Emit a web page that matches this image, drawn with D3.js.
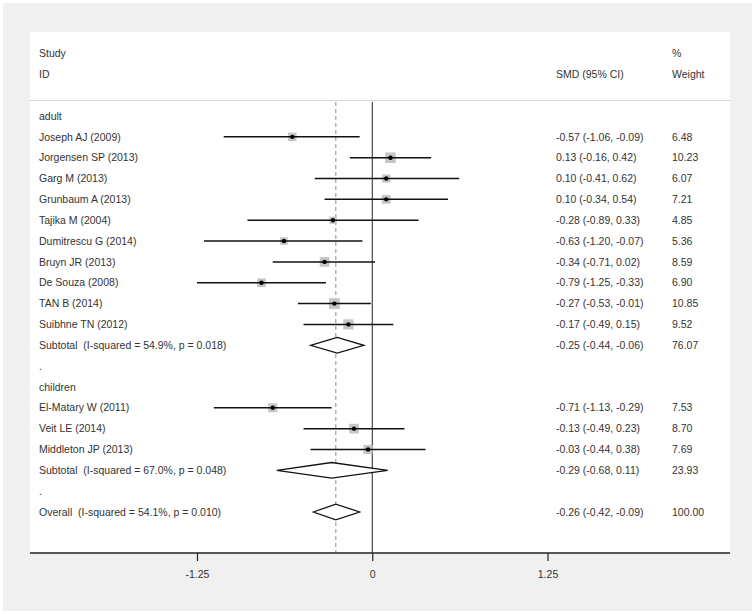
<!DOCTYPE html>
<html>
<head>
<meta charset="utf-8">
<script src="https://cdn.jsdelivr.net/npm/d3@7"></script>
<style>
  html, body { margin: 0; padding: 0; background: #fff; }
  svg { display: block; }
  text { font-family: "Liberation Sans", Arial, sans-serif; font-size: 10.5px; fill: #333; white-space: pre; }
</style>
</head>
<body>
<div id="chart"></div>
<script>
// ---------- data ----------
const rowLabels = [
  "adult",
  "Joseph AJ (2009)", "Jorgensen SP (2013)", "Garg M (2013)", "Grunbaum A (2013)",
  "Tajika M (2004)", "Dumitrescu G (2014)", "Bruyn JR (2013)", "De Souza (2008)",
  "TAN B (2014)", "Suibhne TN (2012)",
  "Subtotal  (I-squared = 54.9%, p = 0.018)",
  ".",
  "children",
  "El-Matary W (2011)", "Veit LE (2014)", "Middleton JP (2013)",
  "Subtotal  (I-squared = 67.0%, p = 0.048)",
  ".",
  "Overall  (I-squared = 54.1%, p = 0.010)"
];
// row type: h = heading, s = study, d = diamond (pooled), b = blank
const rowTypes = ["h","s","s","s","s","s","s","s","s","s","s","d","b","h","s","s","s","d","b","d"];
const smd    = [null,-0.57, 0.13, 0.10, 0.10,-0.28,-0.63,-0.34,-0.79,-0.27,-0.17,-0.25,null,null,-0.71,-0.13,-0.03,-0.29,null,-0.26];
const ciLow  = [null,-1.06,-0.16,-0.41,-0.34,-0.89,-1.20,-0.71,-1.25,-0.53,-0.49,-0.44,null,null,-1.13,-0.49,-0.44,-0.68,null,-0.42];
const ciHigh = [null,-0.09, 0.42, 0.62, 0.54, 0.33,-0.07, 0.02,-0.33,-0.01, 0.15,-0.06,null,null,-0.29, 0.23, 0.38, 0.11,null,-0.09];
const weights= [null,6.48,10.23,6.07,7.21,4.85,5.36,8.59,6.90,10.85,9.52,76.07,null,null,7.53,8.70,7.69,23.93,null,100.00];
const overallEffect = -0.26;
const tickValues = [-1.25, 0, 1.25];
const tickLabels = ["-1.25", "0", "1.25"];

// ---------- layout ----------
const W = 755, H = 614;
const svg = d3.select("#chart").append("svg").attr("width", W).attr("height", H);

// outer grey frame and white plot panel
svg.append("rect").attr("x", 3).attr("y", 3).attr("width", 749).attr("height", 608).attr("fill", "#f0f0f0");
svg.append("rect").attr("x", 30).attr("y", 32).attr("width", 700).attr("height", 521).attr("fill", "#fff");

const x = d3.scaleLinear().domain([-1.25, 1.25]).range([197, 547.5]);
const rowIdx = d3.range(rowLabels.length);
const y = d3.scalePoint().domain(rowIdx).range([116, 512]);

const colLabelX = 39, colCiX = 556, colWX = 672;

// header
const header = svg.append("g");
header.append("text").attr("x", colLabelX).attr("y", 53).attr("dy", "0.35em").text("Study");
header.append("text").attr("x", colLabelX).attr("y", 74).attr("dy", "0.35em").text("ID");
header.append("text").attr("x", colCiX).attr("y", 74).attr("dy", "0.35em").text("SMD (95% CI)");
header.append("text").attr("x", colWX).attr("y", 53).attr("dy", "0.35em").text("%");
header.append("text").attr("x", colWX).attr("y", 74).attr("dy", "0.35em").text("Weight");
svg.append("line").attr("x1", 30).attr("x2", 730).attr("y1", 100.5).attr("y2", 100.5)
  .attr("stroke", "#d6d6d6").attr("stroke-width", 1);

// reference lines
svg.append("line").attr("x1", x(0)).attr("x2", x(0)).attr("y1", 102).attr("y2", 553)
  .attr("stroke", "#222").attr("stroke-width", 1);
svg.append("line").attr("x1", x(overallEffect)).attr("x2", x(overallEffect)).attr("y1", 102).attr("y2", 553)
  .attr("stroke", "#a0a0a0").attr("stroke-width", 1.2).attr("stroke-dasharray", "4,3");

// axis
const axis = d3.axisBottom(x).tickValues(tickValues).tickSize(8).tickSizeOuter(0)
  .tickFormat((d, i) => tickLabels[i]);
const gAxis = svg.append("g").attr("transform", "translate(0,553)").call(axis);
gAxis.select(".domain").remove();
gAxis.append("line").attr("x1", 30).attr("x2", 730).attr("y1", 0).attr("y2", 0)
  .attr("stroke", "#222").attr("stroke-width", 1.3);
gAxis.selectAll(".tick line").attr("stroke", "#222").attr("stroke-width", 1.2);
gAxis.selectAll(".tick text").attr("y", 21).attr("dy", "0.35em")
  .style("font-family", "Liberation Sans, Arial, sans-serif").style("font-size", "10.5px").attr("fill", "#333");

// row labels
svg.append("g").selectAll("text").data(rowIdx).join("text")
  .attr("x", colLabelX).attr("y", i => y(i)).attr("dy", "0.35em")
  .text(i => rowLabels[i]);

// CI text & weight (ASCII hyphen-minus as in the original)
const locale = d3.formatLocale({ decimal: ".", thousands: ",", grouping: [3], currency: ["", ""], minus: "-" });
const fmt = locale.format(".2f");
const statRows = rowIdx.filter(i => smd[i] !== null);
svg.append("g").selectAll("text").data(statRows).join("text")
  .attr("x", colCiX).attr("y", i => y(i)).attr("dy", "0.35em")
  .text(i => `${fmt(smd[i])} (${fmt(ciLow[i])}, ${fmt(ciHigh[i])})`);
svg.append("g").selectAll("text").data(statRows).join("text")
  .attr("x", colWX).attr("y", i => y(i)).attr("dy", "0.35em")
  .text(i => fmt(weights[i]));

// studies
const studies = rowIdx.filter(i => rowTypes[i] === "s");
const side = d3.scaleSqrt().domain([0, 1]).range([0, 3.3]);
const gS = svg.append("g");
gS.selectAll("rect").data(studies).join("rect")
  .attr("x", i => x(smd[i]) - side(weights[i]) / 2)
  .attr("y", i => y(i) - side(weights[i]) / 2)
  .attr("width", i => side(weights[i]))
  .attr("height", i => side(weights[i]))
  .attr("fill", "#c6c6c6");
gS.selectAll("line").data(studies).join("line")
  .attr("x1", i => x(ciLow[i])).attr("x2", i => x(ciHigh[i]))
  .attr("y1", i => y(i)).attr("y2", i => y(i))
  .attr("stroke", "#111").attr("stroke-width", 1.5);
gS.selectAll("circle").data(studies).join("circle")
  .attr("cx", i => x(smd[i])).attr("cy", i => y(i)).attr("r", 2.2)
  .attr("fill", "#000");

// diamonds
const diamonds = rowIdx.filter(i => rowTypes[i] === "d");
svg.append("g").selectAll("path").data(diamonds).join("path")
  .attr("d", i => {
    const cy = y(i), h = 7.8;
    return `M${x(ciLow[i])},${cy}L${x(smd[i])},${cy - h}L${x(ciHigh[i])},${cy}L${x(smd[i])},${cy + h}Z`;
  })
  .attr("fill", "#fff").attr("stroke", "#111").attr("stroke-width", 1.3);
</script>
</body>
</html>
